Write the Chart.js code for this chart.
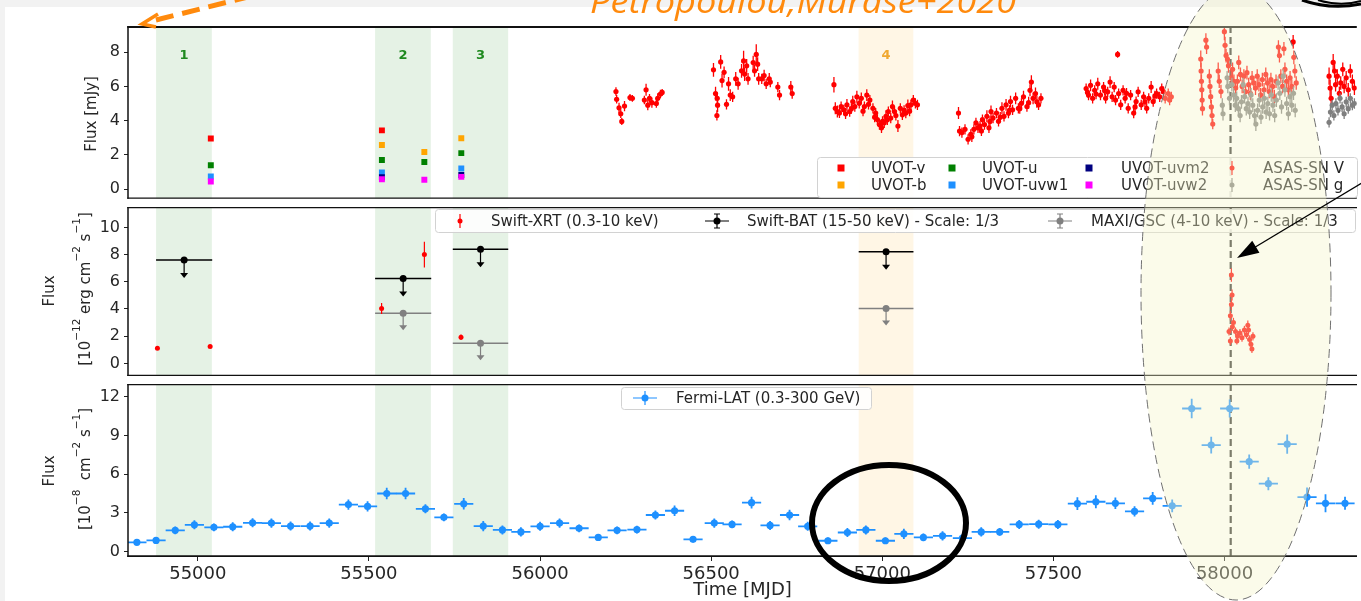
<!DOCTYPE html>
<html>
<head>
<meta charset="utf-8">
<title>TXS 0506+056 light curve</title>
<script src="https://cdn.jsdelivr.net/npm/chart.js@4.4.1/dist/chart.umd.min.js"></script>
<style>
  html, body { margin: 0; padding: 0; background: #f2f2f2; }
  body { width: 1361px; height: 601px; overflow: hidden; position: relative; }
  #sheet { position: absolute; left: 5px; top: 7px; right: 0; bottom: 0; background: #fff; }
  canvas { position: absolute; left: 0; }
</style>
</head>
<body>
<div id="sheet"></div>
<canvas id="c1" width="1361" height="203" style="top:0;width:1361px;height:203px"></canvas>
<canvas id="c2" width="1361" height="177" style="top:203px;width:1361px;height:177px"></canvas>
<canvas id="c3" width="1361" height="221" style="top:380px;width:1361px;height:221px"></canvas>
<canvas id="ov" width="1361" height="601" style="top:0;width:1361px;height:601px;pointer-events:none"></canvas>
<script>
// ---------- data ----------
const xTicks    = [55000, 55500, 56000, 56500, 57000, 57500, 58000];
const bandStart = [54878, 55518, 55745, 56931];
const bandEnd   = [55041, 55681, 55907, 57091];
const bandName  = ['1', '2', '3', '4'];
const eventMjd  = 58018;   // IceCube-170922A

// Swift-UVOT, mJy
const uvotMjd = [55038, 55538, 55662, 55770];
const uvotV   = [2.95, 3.43, null, null];
const uvotB   = [null, 2.57, 2.17, 2.97];
const uvotU   = [1.39, 1.70, 1.58, 2.10];
const uvotW1  = [0.73, 0.97, null, 1.20];
const uvotM2  = [null, 0.69, null, 0.82];
const uvotW2  = [0.44, 0.57, 0.54, 0.71];

// ASAS-SN V, [mjd, mJy, err]
const asasV = [
  // 2012-13
  [56222,5.70,0.25],[56224,5.25,0.25],[56231,4.75,0.30],[56236,4.40,0.25],[56239,3.95,0.20],[56247,4.85,0.30],
  [56263,5.35,0.20],[56270,5.30,0.20],[56305,5.20,0.25],[56310,5.80,0.35],[56315,4.90,0.30],[56320,5.30,0.25],
  [56327,5.05,0.30],[56340,5.00,0.25],[56344,5.30,0.30],[56352,5.55,0.25],[56357,5.65,0.20],
  // 2013-14
  [56507,6.97,0.40],[56513,5.58,0.40],[56518,5.30,0.35],[56519,4.90,0.40],[56517,4.30,0.30],[56528,7.43,0.40],
  [56532,6.34,0.40],[56538,6.82,0.35],[56545,4.95,0.30],[56551,6.15,0.40],[56556,5.49,0.35],[56563,5.39,0.30],
  [56572,6.44,0.40],[56579,6.15,0.35],[56589,6.91,0.40],[56595,7.49,0.60],[56598,6.72,0.40],[56604,7.20,0.40],
  [56608,6.44,0.35],[56623,7.39,0.40],[56627,6.91,0.35],[56632,7.87,0.60],[56636,7.30,0.40],[56639,6.44,0.35],
  [56648,6.44,0.30],[56655,6.63,0.35],[56661,6.15,0.30],[56670,6.44,0.35],[56673,6.25,0.30],[56695,5.96,0.30],
  [56700,5.49,0.30],[56733,5.96,0.35],[56737,5.58,0.30],
  // 2014-15
  [56859,6.10,0.45],[56863,4.72,0.35],[56869,4.53,0.35],[56875,4.45,0.30],[56880,4.82,0.30],[56888,4.63,0.30],
  [56893,4.40,0.30],[56897,4.92,0.35],[56905,4.53,0.30],[56910,4.70,0.30],[56914,5.11,0.35],[56920,4.82,0.30],
  [56926,5.39,0.35],[56933,5.01,0.30],[56939,5.30,0.35],[56944,4.55,0.30],[56948,4.82,0.30],[56955,5.49,0.35],
  [56960,4.95,0.30],[56964,5.20,0.30],[56973,4.72,0.30],[56978,4.20,0.30],[56981,4.44,0.30],[56986,4.06,0.30],
  [56992,3.77,0.30],[56998,3.58,0.30],[57001,3.95,0.30],[57006,3.87,0.30],[57011,4.25,0.35],[57015,4.05,0.30],
  [57018,4.53,0.30],[57025,4.15,0.30],[57030,4.82,0.35],[57036,4.53,0.30],[57040,4.30,0.30],[57046,3.68,0.35],
  [57053,4.72,0.30],[57059,4.34,0.30],[57064,4.60,0.30],[57069,4.44,0.30],[57075,4.88,0.35],[57080,4.55,0.30],
  [57084,4.92,0.30],[57091,5.20,0.30],[57097,5.01,0.30],[57103,4.92,0.30],
  // 2015-16
  [57223,4.44,0.35],[57226,3.39,0.30],[57233,3.30,0.30],[57242,3.49,0.30],[57251,2.91,0.30],[57259,3.20,0.30],
  [57262,3.05,0.30],[57268,3.49,0.30],[57274,3.87,0.30],[57280,3.58,0.30],[57286,3.68,0.30],[57290,3.40,0.30],
  [57293,4.06,0.30],[57299,3.77,0.30],[57306,4.25,0.35],[57312,3.58,0.30],[57315,3.95,0.30],[57318,4.53,0.35],
  [57324,4.15,0.30],[57334,4.44,0.30],[57340,3.96,0.30],[57345,4.20,0.30],[57350,4.72,0.35],[57356,4.25,0.30],
  [57362,4.92,0.35],[57369,4.44,0.30],[57372,4.60,0.30],[57375,5.11,0.35],[57381,4.63,0.30],[57390,5.30,0.35],
  [57398,4.72,0.30],[57402,4.70,0.30],[57407,5.01,0.30],[57413,5.39,0.35],[57423,4.82,0.30],[57428,5.05,0.35],
  [57432,5.77,0.35],[57436,6.25,0.40],[57441,5.30,0.35],[57448,5.58,0.35],[57452,5.10,0.35],[57457,4.92,0.30],
  [57464,5.30,0.30],
  // 2016-17
  [57596,5.87,0.30],[57600,5.65,0.30],[57603,5.49,0.30],[57609,6.06,0.35],[57615,5.30,0.30],[57621,5.77,0.30],
  [57625,5.55,0.30],[57630,6.15,0.35],[57638,5.49,0.30],[57647,5.96,0.30],[57650,5.75,0.30],[57653,5.30,0.30],
  [57659,5.68,0.30],[57666,6.25,0.35],[57672,5.39,0.30],[57678,5.96,0.30],[57682,5.20,0.30],[57688,7.87,0.20],
  [57691,5.58,0.30],[57697,4.92,0.30],[57704,5.77,0.30],[57710,5.30,0.30],[57714,5.60,0.30],[57719,4.72,0.30],
  [57726,5.49,0.30],[57735,4.44,0.30],[57739,4.80,0.30],[57742,5.11,0.30],[57748,5.68,0.30],[57757,4.92,0.30],
  [57764,5.39,0.30],[57768,5.10,0.30],[57773,4.72,0.30],[57779,5.30,0.30],[57786,5.96,0.35],[57792,5.11,0.30],
  [57797,5.45,0.30],[57802,5.58,0.30],[57811,5.39,0.30],[57817,5.87,0.30],[57822,5.70,0.30],[57827,5.30,0.30],
  [57836,5.58,0.30],[57840,5.20,0.30],[57845,5.39,0.30],
  // 2017-18
  [57931,7.60,0.50],[57932,6.90,0.50],[57933,6.30,0.40],[57934,5.80,0.50],[57935,5.20,0.50],[57936,4.70,0.40],
  [57946,8.70,0.40],[57948,8.30,0.40],[57956,6.60,0.40],[57958,6.00,0.40],[57960,5.40,0.40],[57962,4.80,0.40],
  [57964,4.30,0.40],[57966,3.80,0.30],[57982,6.90,0.50],[57985,6.30,0.40],[57990,5.70,0.40],[58000,9.20,0.50],
  [58002,8.40,0.50],[58005,7.80,0.40],[58009,7.60,0.40],[58012,7.20,0.40],[58020,6.50,0.40],[58024,7.00,0.40],
  [58028,6.30,0.40],[58033,5.90,0.40],[58038,6.30,0.40],[58042,7.40,0.40],[58047,6.70,0.40],[58052,6.00,0.40],
  [58057,6.60,0.40],[58062,5.70,0.40],[58066,6.80,0.40],[58071,6.10,0.40],[58076,5.60,0.40],[58081,6.50,0.40],
  [58086,6.20,0.40],[58091,5.90,0.40],[58096,6.60,0.40],[58101,6.10,0.40],[58106,5.50,0.40],[58111,6.40,0.40],
  [58116,5.80,0.40],[58121,6.70,0.40],[58126,6.20,0.40],[58131,5.70,0.40],[58136,6.40,0.40],[58141,6.00,0.40],
  [58146,5.40,0.40],[58151,6.30,0.40],[58158,8.30,0.40],[58161,7.80,0.40],[58165,6.60,0.40],[58170,6.00,0.40],
  [58174,8.20,0.40],[58177,7.00,0.40],[58182,6.30,0.40],[58187,5.80,0.40],[58192,6.50,0.40],[58197,6.00,0.40],
  [58201,8.60,0.40],[58203,7.70,0.40],[58206,6.90,0.40],[58210,6.20,0.40],
  // 2018-19
  [58306,6.60,0.50],[58309,5.90,0.50],[58312,5.30,0.50],[58318,7.40,0.50],[58322,6.90,0.40],[58325,6.10,0.40],
  [58330,6.60,0.40],[58336,5.60,0.40],[58340,6.20,0.40],[58346,7.00,0.40],[58350,6.00,0.40],[58356,6.50,0.40],
  [58362,5.80,0.40],[58368,6.90,0.40],[58374,6.30,0.40],[58380,5.90,0.40]
];

// ASAS-SN g, [mjd, mJy, err]
const asasG = [
  [57994,4.90,0.40],[57996,4.40,0.40],[58008,6.50,0.40],[58010,6.00,0.40],[58015,5.30,0.40],[58022,6.10,0.40],
  [58027,5.50,0.40],[58032,4.90,0.40],[58036,5.30,0.40],[58041,4.70,0.40],[58046,4.30,0.40],[58050,5.10,0.40],
  [58055,6.10,0.40],[58059,5.40,0.40],[58064,4.70,0.40],[58069,5.00,0.40],[58074,4.50,0.40],[58078,5.50,0.40],
  [58083,4.90,0.40],[58088,4.30,0.40],[58092,3.80,0.40],[58097,4.60,0.40],[58102,5.20,0.40],[58107,4.20,0.40],
  [58112,4.80,0.40],[58117,5.30,0.40],[58122,4.50,0.40],[58127,5.00,0.40],[58132,4.40,0.40],[58137,5.50,0.40],
  [58142,4.90,0.40],[58147,4.30,0.40],[58152,5.20,0.40],[58157,6.20,0.40],[58162,5.60,0.40],[58167,4.80,0.40],
  [58172,6.60,0.40],[58177,5.80,0.40],[58182,5.00,0.40],[58187,4.40,0.40],[58192,5.40,0.40],[58197,4.90,0.40],
  [58202,5.60,0.40],[58207,4.60,0.40],
  [58306,3.90,0.30],[58310,4.50,0.30],[58315,4.90,0.30],[58320,4.30,0.30],[58326,5.00,0.30],[58332,4.60,0.30],
  [58338,5.30,0.30],[58344,4.80,0.30],[58350,4.40,0.30],[58356,5.10,0.30],[58362,4.70,0.30],[58368,5.30,0.30],
  [58374,4.90,0.30],[58380,5.00,0.30]
];

// Swift-XRT 0.3-10 keV, [mjd, 1e-12 erg/cm2/s, err]
const xrt = [
  [54882,1.12,0.08],[55036,1.24,0.08],[55537,4.03,0.40],[55662,8.00,0.95],[55769,1.92,0.20],
  [58020,6.50,0.50],[58022,5.03,0.40],[58020,4.33,0.40],[58017,3.51,0.35],[58026,3.00,0.35],[58013,2.34,0.30],
  [58023,2.69,0.30],[58017,1.64,0.30],[58032,2.34,0.30],[58036,1.64,0.25],[58038,1.99,0.30],[58045,2.23,0.30],
  [58051,1.88,0.30],[58058,2.46,0.30],[58064,2.11,0.30],[58068,2.81,0.35],[58070,2.46,0.30],[58073,1.76,0.30],
  [58077,1.41,0.30],[58080,1.06,0.30],[58083,1.99,0.30]
];

// Swift-BAT and MAXI/GSC upper limits (scaled 1/3)
const batMjd   = [54960, 55600, 55826, 57011];
const batFlux  = [7.60, 6.25, 8.40, 8.20];
const batHalf  = [82, 82, 81, 80];
const maxiMjd  = [55600, 55826, 57011];
const maxiFlux = [3.68, 1.47, 4.03];
const maxiHalf = [82, 81, 80];

// Fermi-LAT 0.3-300 GeV, 1e-8 ph/cm2/s
const fermiMjd = [54822,54878,54934,54990,55047,55102,55160,55215,55271,55328,55384,55440,55496,55552,55607,55665,
  55719,55777,55834,55890,55944,56000,56057,56114,56170,56225,56283,56337,56393,56447,56509,56561,56618,56672,
  56729,56782,56841,56898,56952,57009,57063,57120,57176,57234,57289,57343,57400,57457,57513,57570,57624,57681,
  57737,57790,57847,57904,57961,58015,58072,58128,58183,58241,58295,58352];
const fermiFlux = [0.71,0.86,1.64,2.07,1.87,1.92,2.22,2.20,1.97,1.97,2.20,3.64,3.50,4.50,4.50,3.31,
  2.65,3.70,1.97,1.67,1.52,1.95,2.20,1.80,1.09,1.64,1.70,2.83,3.16,0.94,2.20,2.10,3.79,2.02,
  2.83,1.95,0.83,1.47,1.67,0.83,1.36,1.09,1.21,1.04,1.52,1.52,2.10,2.12,2.10,3.71,3.86,3.74,
  3.11,4.12,3.54,11.10,8.26,11.10,6.97,5.26,8.33,4.22,3.74,3.74];
const fermiErr = [0.20,0.25,0.30,0.35,0.30,0.35,0.35,0.35,0.35,0.35,0.35,0.40,0.40,0.45,0.45,0.35,
  0.30,0.45,0.40,0.35,0.35,0.35,0.35,0.30,0.20,0.30,0.30,0.35,0.40,0.20,0.35,0.30,0.45,0.35,
  0.40,0.35,0.25,0.35,0.35,0.25,0.40,0.30,0.35,0.30,0.35,0.30,0.35,0.35,0.35,0.50,0.50,0.45,
  0.40,0.50,0.50,0.75,0.65,0.70,0.55,0.50,0.75,0.75,0.70,0.50];
const fermiHalfBin = 28;

// ---------- helpers ----------
const FONT = '"DejaVu Sans", sans-serif';
const INK = '#262626';
const X_MIN = 54796, X_MAX = 58387;

const pts  = (xs, ys) => xs.map((x, i) => ({ x, y: ys[i] })).filter(p => p.y != null);
const trip = arr => arr.map(([x, y, e]) => ({ x, y, ye: e }));

function xScale(show) {
  return {
    type: 'linear', min: X_MIN, max: X_MAX, display: show,
    ticks: { autoSkip: false, maxRotation: 0,
             font: { size: 18, family: FONT }, color: INK, padding: 3, callback: v => String(v) },
    afterBuildTicks: s => { s.ticks = xTicks.map(v => ({ value: v })); },
    grid: { drawOnChartArea: false, tickLength: 4, color: '#222' },
    border: { display: false },
    title: { display: show, text: 'Time [MJD]', font: { size: 18, family: FONT }, color: INK,
             padding: { top: 0, bottom: 0 } },
    afterFit: s => { s.height = show ? 44 : 0; s.paddingLeft = 0; s.paddingRight = 0; }
  };
}

function yScale(min, max, step) {
  return {
    type: 'linear', position: 'left', min, max,
    ticks: { stepSize: step, includeBounds: false, font: { size: 16, family: FONT }, color: INK,
             padding: 4, callback: v => String(v) },
    grid: { drawOnChartArea: false, tickLength: 4, color: '#222' },
    border: { display: false },
    afterFit: s => { s.width = 128; s.paddingTop = 0; s.paddingBottom = 0; }
  };
}

// error bars / upper limit arrows, drawn just under each dataset's markers
const errorBars = {
  id: 'errorBars',
  beforeDatasetDraw(chart, args) {
    const ds = chart.data.datasets[args.index];
    const { ctx, chartArea: a, scales: { x, y } } = chart;
    ctx.save();
    ctx.beginPath(); ctx.rect(a.left, a.top, a.width, a.height); ctx.clip();
    ctx.strokeStyle = ds.backgroundColor;
    ctx.fillStyle = ds.backgroundColor;
    ctx.lineWidth = ds.errWidth || 1;
    ds.data.forEach(d => {
      const px = x.getPixelForValue(d.x), py = y.getPixelForValue(d.y);
      ctx.beginPath();
      if (d.ye) { ctx.moveTo(px, y.getPixelForValue(d.y - d.ye)); ctx.lineTo(px, y.getPixelForValue(d.y + d.ye)); }
      if (d.xe) { ctx.moveTo(x.getPixelForValue(d.x - d.xe), py); ctx.lineTo(x.getPixelForValue(d.x + d.xe), py); }
      ctx.stroke();
      if (ds.uplim) {
        const tip = py + ds.uplim;
        ctx.lineWidth = 1.2;
        ctx.beginPath(); ctx.moveTo(px, py); ctx.lineTo(px, tip - 4); ctx.stroke();
        ctx.beginPath(); ctx.moveTo(px - 4, tip - 5); ctx.lineTo(px + 4, tip - 5); ctx.lineTo(px, tip); ctx.closePath(); ctx.fill();
        ctx.lineWidth = ds.errWidth || 1;
      }
    });
    ctx.restore();
  }
};

function drawKey(ctx, key, color, x, y) {
  ctx.save();
  ctx.fillStyle = color; ctx.strokeStyle = color; ctx.lineWidth = 1.2;
  if (key === 'sq') {
    ctx.fillRect(x - 3.5, y - 3.5, 7, 7);
  } else {
    ctx.beginPath();
    ctx.moveTo(x, y - 7); ctx.lineTo(x, y + 7);
    if (key === 'cross' || key === 'caps') { ctx.moveTo(x - 12, y); ctx.lineTo(x + 12, y); }
    if (key === 'caps') { ctx.moveTo(x - 3, y - 7); ctx.lineTo(x + 3, y - 7); ctx.moveTo(x - 3, y + 7); ctx.lineTo(x + 3, y + 7); }
    ctx.stroke();
    ctx.beginPath(); ctx.arc(x, y, key === 'dot' ? 2.5 : 3.5, 0, 2 * Math.PI); ctx.fill();
  }
  ctx.restore();
}

// rotated axis title with superscripts; baseline at x=bx, centred on cy
function drawRotated(ctx, parts, bx, cy) {
  ctx.save();
  ctx.translate(bx, cy);
  ctx.rotate(-Math.PI / 2);
  ctx.fillStyle = INK;
  ctx.textBaseline = 'alphabetic';
  ctx.textAlign = 'left';
  let w = 0;
  parts.forEach(p => { ctx.font = (p.sup ? 10.5 : 15) + 'px ' + FONT; p.w = ctx.measureText(p.t).width; w += p.w; });
  let cx = -w / 2;
  parts.forEach(p => { ctx.font = (p.sup ? 10.5 : 15) + 'px ' + FONT; ctx.fillText(p.t, cx, p.sup ? -10 : 0); cx += p.w; });
  ctx.restore();
}

const decor = {
  id: 'decor',
  beforeDatasetsDraw(chart, args, o) {
    const { ctx, chartArea: a, scales: { x, y } } = chart;
    ctx.save();
    ctx.beginPath(); ctx.rect(a.left, a.top, a.width, a.height); ctx.clip();
    bandStart.forEach((s, i) => {
      const x0 = x.getPixelForValue(s), x1 = x.getPixelForValue(bandEnd[i]);
      ctx.fillStyle = i < 3 ? 'rgba(0,128,0,0.1)' : 'rgba(255,165,0,0.1)';
      ctx.fillRect(x0, a.top, x1 - x0, a.height);
      if (o.bandLabelY) {
        ctx.fillStyle = i < 3 ? '#1f8a1f' : '#f0a830';
        ctx.font = 'bold 13px ' + FONT;
        ctx.textAlign = 'center'; ctx.textBaseline = 'middle';
        ctx.fillText(bandName[i], (x0 + x1) / 2, y.getPixelForValue(o.bandLabelY));
      }
    });
    const xe = x.getPixelForValue(eventMjd);
    ctx.strokeStyle = '#333'; ctx.lineWidth = 2.2; ctx.setLineDash([7, 4]);
    ctx.beginPath(); ctx.moveTo(xe, a.top); ctx.lineTo(xe, a.bottom); ctx.stroke();
    ctx.restore();
  },
  afterDraw(chart, args, o) {
    const { ctx, chartArea: a } = chart;
    ctx.save();
    ctx.strokeStyle = '#111';
    ctx.lineWidth = o.topW;
    ctx.beginPath(); ctx.moveTo(a.left - 0.75, a.top + o.topW / 2); ctx.lineTo(a.right, a.top + o.topW / 2); ctx.stroke();
    ctx.lineWidth = o.botW;
    ctx.beginPath(); ctx.moveTo(a.left - 0.75, a.bottom - o.botW / 2); ctx.lineTo(a.right, a.bottom - o.botW / 2); ctx.stroke();
    ctx.lineWidth = 1.5;
    ctx.beginPath(); ctx.moveTo(a.left, a.top); ctx.lineTo(a.left, a.bottom); ctx.stroke();
    ctx.restore();

    o.titles.forEach(t => drawRotated(ctx, t.parts, t.x, t.y));

    const L = o.legend;
    ctx.save();
    ctx.beginPath();
    ctx.roundRect(L.box[0] + 0.5, L.box[1] + 0.5, L.box[2], L.box[3], 3);
    ctx.fillStyle = 'rgba(255,255,255,0.85)'; ctx.fill();
    ctx.strokeStyle = '#d2d2d2'; ctx.lineWidth = 1; ctx.stroke();
    ctx.font = '15px ' + FONT; ctx.fillStyle = INK;
    ctx.textAlign = 'left'; ctx.textBaseline = 'middle';
    L.items.forEach(it => {
      drawKey(ctx, it.key, it.color, it.mx, it.y);
      ctx.fillStyle = INK;
      ctx.fillText(it.text, it.tx, it.y + 1);
    });
    ctx.restore();
  }
};

function makeChart(id, datasets, yOpts, showX, pad, decorOpts) {
  return new Chart(document.getElementById(id), {
    type: 'scatter',
    data: { datasets },
    options: {
      responsive: false, animation: false, devicePixelRatio: 1, events: [],
      layout: { padding: pad },
      scales: { x: xScale(showX), y: yOpts },
      plugins: { legend: { display: false }, tooltip: { enabled: false }, decor: decorOpts }
    },
    plugins: [decor, errorBars]
  });
}

const sq = (label, ys, color) => ({ label, data: pts(uvotMjd, ys), backgroundColor: color,
  pointStyle: 'rect', pointRadius: 4.2, borderWidth: 0 });

// ---------- panel 1: optical / UV ----------
makeChart('c1', [
  { label: 'ASAS-SN g', data: trip(asasG), backgroundColor: '#7f7f7f', pointRadius: 2.6, borderWidth: 0, errWidth: 1.3 },
  { label: 'ASAS-SN V', data: trip(asasV), backgroundColor: '#ff0000', pointRadius: 2.6, borderWidth: 0, errWidth: 1.3 },
  sq('UVOT-uvw2', uvotW2, '#ff00ff'),
  sq('UVOT-uvm2', uvotM2, '#000080'),
  sq('UVOT-uvw1', uvotW1, '#1e90ff'),
  sq('UVOT-u', uvotU, '#008000'),
  sq('UVOT-b', uvotB, '#ffa500'),
  sq('UVOT-v', uvotV, '#ff0000')
], yScale(-0.57, 9.53, 2), false, { top: 26, bottom: 0, left: 0, right: 0 }, {
  topW: 2, botW: 1.2, bandLabelY: 7.8,
  titles: [{ parts: [{ t: 'Flux [mJy]' }], x: 96, y: 114 }],
  legend: {
    box: [817, 157, 540, 40],
    items: [
      { key: 'sq', color: '#ff0000', mx: 841, tx: 871, y: 168, text: 'UVOT-v' },
      { key: 'sq', color: '#ffa500', mx: 841, tx: 871, y: 185, text: 'UVOT-b' },
      { key: 'sq', color: '#008000', mx: 952, tx: 982, y: 168, text: 'UVOT-u' },
      { key: 'sq', color: '#1e90ff', mx: 952, tx: 982, y: 185, text: 'UVOT-uvw1' },
      { key: 'sq', color: '#000080', mx: 1089, tx: 1121, y: 168, text: 'UVOT-uvm2' },
      { key: 'sq', color: '#ff00ff', mx: 1089, tx: 1121, y: 185, text: 'UVOT-uvw2' },
      { key: 'dot', color: '#ff0000', mx: 1232, tx: 1263, y: 168, text: 'ASAS-SN V' },
      { key: 'dot', color: '#7f7f7f', mx: 1232, tx: 1263, y: 185, text: 'ASAS-SN g' }
    ]
  }
});

// ---------- panel 2: X-ray ----------
makeChart('c2', [
  { label: 'Swift-XRT', data: trip(xrt), backgroundColor: '#ff0000', pointRadius: 2.5, borderWidth: 0, errWidth: 1.2 },
  { label: 'Swift-BAT', data: batMjd.map((x, i) => ({ x, y: batFlux[i], xe: batHalf[i] })),
    backgroundColor: '#000000', pointRadius: 3.5, borderWidth: 0, errWidth: 1.5, uplim: 18 },
  { label: 'MAXI/GSC', data: maxiMjd.map((x, i) => ({ x, y: maxiFlux[i], xe: maxiHalf[i] })),
    backgroundColor: '#808080', pointRadius: 3.5, borderWidth: 0, errWidth: 1.5, uplim: 17 }
], yScale(-0.93, 11.5, 2), false, { top: 0, bottom: 0, left: 0, right: 0 }, {
  topW: 1.2, botW: 1.2,
  titles: [
    { parts: [{ t: 'Flux' }], x: 54, y: 88 },
    { parts: [{ t: '[10' }, { t: '−12', sup: true }, { t: ' erg cm' }, { t: '−2', sup: true }, { t: ' s' }, { t: '−1', sup: true }, { t: ']' }], x: 90, y: 86 }
  ],
  legend: {
    box: [435, 6, 920, 23],
    items: [
      { key: 'dot', color: '#ff0000', mx: 460, tx: 491, y: 18, text: 'Swift-XRT (0.3-10 keV)' },
      { key: 'caps', color: '#000000', mx: 717, tx: 747, y: 18, text: 'Swift-BAT (15-50 keV) - Scale: 1/3' },
      { key: 'caps', color: '#808080', mx: 1060, tx: 1091, y: 18, text: 'MAXI/GSC (4-10 keV) - Scale: 1/3' }
    ]
  }
});

// ---------- panel 3: gamma-ray ----------
makeChart('c3', [
  { label: 'Fermi-LAT', data: fermiMjd.map((x, i) => ({ x, y: fermiFlux[i], ye: fermiErr[i], xe: fermiHalfBin })),
    backgroundColor: '#1e90ff', pointRadius: 3.6, borderWidth: 0, errWidth: 1.8 }
], yScale(-0.43, 13.0, 3), true, { top: 0, bottom: 0, left: 0, right: 0 }, {
  topW: 1.2, botW: 1.8,
  titles: [
    { parts: [{ t: 'Flux' }], x: 54, y: 91 },
    { parts: [{ t: '[10' }, { t: '−8', sup: true }, { t: '  cm' }, { t: '−2', sup: true }, { t: ' s' }, { t: '−1', sup: true }, { t: ']' }], x: 90, y: 89 }
  ],
  legend: {
    box: [621, 7, 250, 22],
    items: [{ key: 'cross', color: '#1e90ff', mx: 645, tx: 676, y: 18, text: 'Fermi-LAT (0.3-300 GeV)' }]
  }
});

// ---------- slide annotations on top ----------
(function drawAnnotations() {
  const ctx = document.getElementById('ov').getContext('2d');

  // highlighted region around the neutrino event
  ctx.save();
  ctx.beginPath();
  ctx.ellipse(1236, 293, 95, 307, 0, 0, 2 * Math.PI);
  ctx.fillStyle = 'rgba(244,244,200,0.38)';
  ctx.fill();
  ctx.setLineDash([9, 5]);
  ctx.strokeStyle = '#6f6f6f';
  ctx.lineWidth = 1;
  ctx.stroke();
  ctx.restore();

  // black ring around the 2014-15 low state
  ctx.save();
  ctx.beginPath();
  ctx.ellipse(889, 523, 77, 58, 0, 0, 2 * Math.PI);
  ctx.strokeStyle = '#000'; ctx.lineWidth = 6;
  ctx.stroke();
  ctx.restore();

  // arrow pointing at the event
  ctx.save();
  const tx = 1237, ty = 258, sx = 1400, sy = 160;
  const ang = Math.atan2(ty - sy, tx - sx);
  ctx.strokeStyle = '#000'; ctx.fillStyle = '#000'; ctx.lineWidth = 1.3;
  ctx.beginPath(); ctx.moveTo(sx, sy); ctx.lineTo(tx - 18 * Math.cos(ang), ty - 18 * Math.sin(ang)); ctx.stroke();
  ctx.beginPath();
  ctx.moveTo(tx, ty);
  ctx.lineTo(tx - 22 * Math.cos(ang) + 7 * Math.sin(ang), ty - 22 * Math.sin(ang) - 7 * Math.cos(ang));
  ctx.lineTo(tx - 22 * Math.cos(ang) - 7 * Math.sin(ang), ty - 22 * Math.sin(ang) + 7 * Math.cos(ang));
  ctx.closePath(); ctx.fill();
  ctx.restore();

  // black outline peeking in at top right
  ctx.save();
  ctx.strokeStyle = '#000'; ctx.lineWidth = 3;
  ctx.beginPath(); ctx.moveTo(1302, 0); ctx.quadraticCurveTo(1330, 10, 1361, 4); ctx.stroke();
  ctx.lineWidth = 2;
  ctx.beginPath(); ctx.moveTo(1318, 0); ctx.quadraticCurveTo(1340, 7, 1361, 1); ctx.stroke();
  ctx.restore();

  // orange dashed arrow at top left
  ctx.save();
  ctx.strokeStyle = '#ff8a0d'; ctx.lineWidth = 5; ctx.setLineDash([18, 9]);
  ctx.beginPath(); ctx.moveTo(252, -4); ctx.lineTo(148, 22); ctx.stroke();
  ctx.setLineDash([]); ctx.lineWidth = 3.5;
  ctx.beginPath(); ctx.moveTo(158, 14); ctx.lineTo(142, 24); ctx.lineTo(156, 27); ctx.stroke();
  ctx.restore();

  // citation (slide text is slightly stretched horizontally)
  ctx.save();
  ctx.translate(590, 13);
  ctx.scale(1.13, 1);
  ctx.font = 'italic 32px "Open Sans", sans-serif';
  ctx.fillStyle = '#ff8a0d';
  ctx.textBaseline = 'alphabetic';
  ctx.fillText('Petropoulou,Murase+2020', 0, 0);
  ctx.restore();
})();
</script>
</body>
</html>
